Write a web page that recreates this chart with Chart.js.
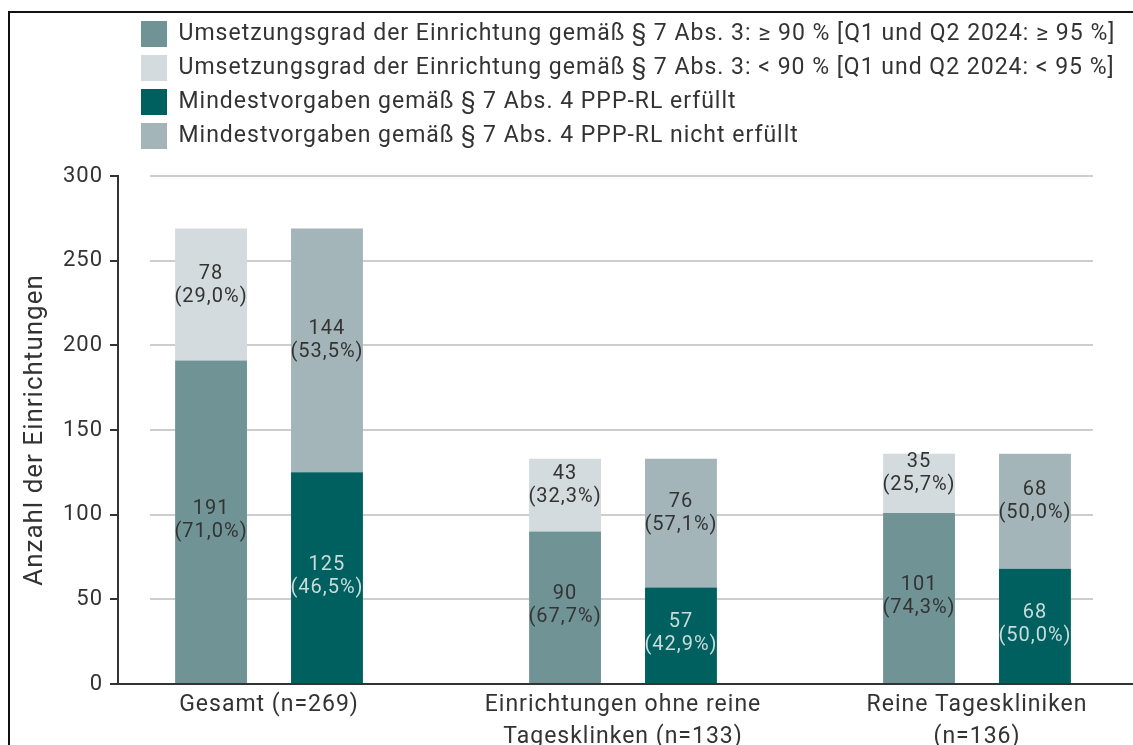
<!DOCTYPE html>
<html lang="de">
<head>
<meta charset="utf-8">
<title>Einrichtungen nach Umsetzungsgrad und Mindestvorgaben</title>
<script src="https://cdn.jsdelivr.net/npm/chart.js@4.4.1/dist/chart.umd.min.js"></script>
<style>
  html, body { margin: 0; padding: 0; background: #fff; overflow: hidden; }
  #wrap { position: absolute; left: 0; top: 0; width: 1133px; height: 770px; }
  #frame {
    position: absolute; left: 8px; top: 11px; width: 1200px; height: 800px;
    border-left: 2px solid #111; border-top: 2px solid #111; pointer-events: none;
  }
</style>
</head>
<body>
<div id="wrap"><canvas id="chart"></canvas></div>
<div id="frame"></div>
<script>
// categories (multi-line labels as arrays)
const categories = [
  "Gesamt (n=269)",
  ["Einrichtungen ohne reine", "Tagesklinken (n=133)"],
  ["Reine Tageskliniken", "(n=136)"],
];

// counts per segment
const umsetzungHoch = [191, 90, 101];
const umsetzungNiedrig = [78, 43, 35];
const mindestErfuellt = [125, 57, 68];
const mindestNichtErfuellt = [144, 76, 68];

// shares printed under the counts
const umsetzungHochPct = [71.0, 67.7, 74.3];
const umsetzungNiedrigPct = [29.0, 32.3, 25.7];
const mindestErfuelltPct = [46.5, 42.9, 50.0];
const mindestNichtErfuelltPct = [53.5, 57.1, 50.0];

const yTicks = [0, 50, 100, 150, 200, 250, 300];

const TEXT = "#333333";
const FONT = 'Roboto, "DejaVu Sans", sans-serif';
const SPACING = "1px";

const toPoints = (values) => values.map((v, i) => ({ x: i, y: v }));
const formatPct = (p) => `(${p.toFixed(1).replace(".", ",")}%)`;

// letter spacing is reset whenever the canvas is resized
const letterSpacing = {
  id: "letterSpacing",
  beforeLayout(chart) { chart.ctx.letterSpacing = SPACING; },
  beforeDraw(chart) { chart.ctx.letterSpacing = SPACING; },
};

// legend sits indented above the plot, not flush left
const legendPlacement = {
  id: "legendPlacement",
  afterLayout(chart) {
    chart.legend.left = 133;
    chart.legend.top = 13;
  },
};

// horizontal grid lines stop short of both axes
const gridLines = {
  id: "gridLines",
  beforeDatasetsDraw(chart) {
    const { ctx, chartArea, scales } = chart;
    ctx.save();
    ctx.strokeStyle = "#cdcdcd";
    ctx.lineWidth = 2;
    scales.y.ticks.forEach((t) => {
      if (t.value === 0) return;
      const py = Math.round(scales.y.getPixelForValue(t.value));
      ctx.beginPath();
      ctx.moveTo(chartArea.left + 32, py);
      ctx.lineTo(chartArea.right - 40, py);
      ctx.stroke();
    });
    ctx.restore();
  },
};

// count + share in the middle of each segment, top segments sit a bit higher
const segmentLabels = {
  id: "segmentLabels",
  afterDatasetsDraw(chart) {
    const { ctx } = chart;
    ctx.save();
    ctx.font = `20px ${FONT}`;
    ctx.textAlign = "center";
    ctx.textBaseline = "middle";
    chart.data.datasets.forEach((ds, di) => {
      chart.getDatasetMeta(di).data.forEach((bar, i) => {
        const lift = ds.onTop ? 10 : 2;
        const cy = (bar.y + bar.base) / 2 - lift;
        ctx.fillStyle = ds.labelColor;
        ctx.fillText(String(ds.counts[i]), bar.x, cy - 11);
        ctx.fillText(formatPct(ds.shares[i]), bar.x, cy + 12);
      });
    });
    ctx.restore();
  },
};

const makeDataset = (label, values, shares, color, labelColor, stack, onTop) => ({
  label,
  data: toPoints(values),
  counts: values,
  shares,
  stack,
  onTop,
  backgroundColor: color,
  borderWidth: 0,
  labelColor,
  categoryPercentage: 0.655,
  barPercentage: 0.62,
});

new Chart(document.getElementById("chart"), {
  type: "bar",
  data: {
    datasets: [
      makeDataset("Umsetzungsgrad der Einrichtung gemäß § 7 Abs. 3: ≥ 90 % [Q1 und Q2 2024: ≥ 95 %]",
        umsetzungHoch, umsetzungHochPct, "#709496", TEXT, "umsetzung", false),
      makeDataset("Umsetzungsgrad der Einrichtung gemäß § 7 Abs. 3: < 90 % [Q1 und Q2 2024: < 95 %]",
        umsetzungNiedrig, umsetzungNiedrigPct, "#d3dbde", TEXT, "umsetzung", true),
      makeDataset("Mindestvorgaben gemäß § 7 Abs. 4 PPP-RL erfüllt",
        mindestErfuellt, mindestErfuelltPct, "#00605f", "#c8dcdc", "mindest", false),
      makeDataset("Mindestvorgaben gemäß § 7 Abs. 4 PPP-RL nicht erfüllt",
        mindestNichtErfuellt, mindestNichtErfuelltPct, "#a3b5b9", TEXT, "mindest", true),
    ],
  },
  options: {
    responsive: true,
    maintainAspectRatio: false,
    animation: false,
    events: [],
    layout: { padding: { top: 30, left: 0, right: 0, bottom: 0 } },
    plugins: {
      tooltip: { enabled: false },
      legend: {
        position: "top",
        align: "start",
        labels: {
          boxWidth: 26,
          boxHeight: 26,
          padding: 8,
          color: TEXT,
          font: { family: FONT, size: 23 },
        },
      },
    },
    scales: {
      x: {
        type: "linear",
        offset: false,
        min: -0.4266,
        max: 2.4407,
        afterBuildTicks: (scale) => {
          scale.ticks = categories.map((_, i) => ({ value: i }));
        },
        afterFit: (scale) => { scale.height = 86; },
        border: { color: TEXT, width: 2 },
        grid: { display: false, offset: false },
        ticks: {
          callback: (value) => categories[value],
          padding: -3,
          maxRotation: 0,
          autoSkip: false,
          color: TEXT,
          font: { family: FONT, size: 23, lineHeight: 1.39 },
        },
      },
      y: {
        stacked: true,
        min: yTicks[0],
        max: yTicks[yTicks.length - 1],
        afterFit: (scale) => { scale.width = 118; },
        afterBuildTicks: (scale) => {
          scale.ticks = yTicks.map((v) => ({ value: v }));
        },
        border: { color: TEXT, width: 2 },
        grid: { drawOnChartArea: false, color: TEXT, lineWidth: 2, tickLength: 8 },
        ticks: { padding: 7, color: TEXT, font: { family: FONT, size: 22 } },
        title: {
          display: true,
          text: "Anzahl der Einrichtungen",
          color: TEXT,
          font: { family: FONT, size: 26 },
          padding: { top: 20, bottom: 0 },
        },
      },
    },
  },
  plugins: [letterSpacing, legendPlacement, gridLines, segmentLabels],
});
</script>
</body>
</html>
